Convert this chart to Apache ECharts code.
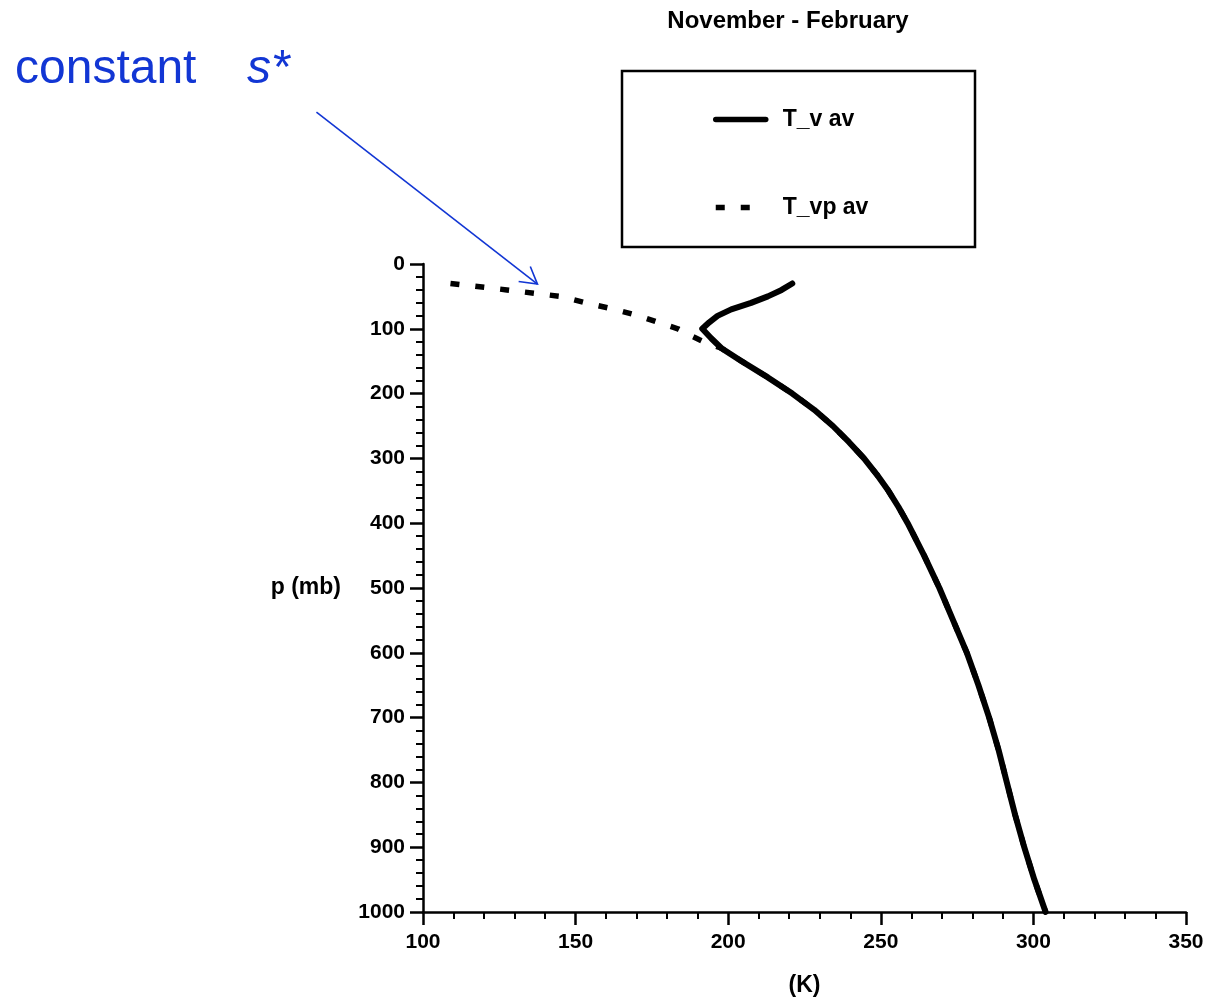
<!DOCTYPE html>
<html>
<head>
<meta charset="utf-8">
<script src="https://cdn.jsdelivr.net/npm/echarts@6/dist/echarts.min.js"></script>
<style>
  html, body { margin: 0; padding: 0; background: #ffffff; }
  #chart { width: 1213px; height: 997px; }
</style>
</head>
<body>
<div id="chart"></div>
<script>
// Winter (Nov–Feb) mean virtual temperature profiles
const chartTitle = 'November - February';
const seriesNames = ['T_v av', 'T_vp av'];

// T_v av : pressure levels (mb) and temperature (K)
const pressureTv = [30, 40, 50, 60, 70, 80, 90, 100, 115, 130, 150, 175, 200, 225, 250, 275, 300, 325, 350, 375, 400, 450, 500, 550, 600, 650, 700, 750, 800, 850, 900, 950, 1000];
const tempTv     = [221, 217.5, 213, 207.5, 201, 196.5, 193.8, 191.5, 194.5, 197.8, 204.4, 213, 221, 228.2, 234.3, 239.6, 244.5, 248.7, 252.5, 255.8, 258.8, 264.2, 269.2, 273.7, 278.2, 282, 285.5, 288.6, 291.3, 294, 297, 300.3, 304];

// T_vp av : follows constant s* aloft, then joins T_v below ~130 mb
const pressureTvp = [30, 40, 50, 60, 70, 80, 90, 100, 110, 120, 130, 150, 175, 200, 225, 250, 275, 300, 325, 350, 375, 400, 450, 500, 550, 600, 650, 700, 750, 800, 850, 900, 950, 1000];
const tempTvp     = [109, 127.5, 145, 153.3, 162.8, 170.7, 177, 183.5, 187.5, 192, 197.8, 204.4, 213, 221, 228.2, 234.3, 239.6, 244.5, 248.7, 252.5, 255.8, 258.8, 264.2, 269.2, 273.7, 278.2, 282, 285.5, 288.6, 291.3, 294, 297, 300.3, 304];

// Axis ranges and labels
const xRange = [100, 350];
const xStep = 50;
const yRange = [0, 1000];
const yStep = 100;
const xAxisName = '(K)';
const yAxisName = 'p (mb)';

// Annotation on the upper T_vp branch
const annotationText = 'constant';
const annotationSymbol = 's*';
const annotationTarget = [137.5, 31];

const toPairs = (ps, ts) => ts.map((t, i) => [t, ps[i]]);

const chart = echarts.init(document.getElementById('chart'), null, { renderer: 'canvas' });

const fontFamily = '"Liberation Sans", Arial, sans-serif';
const axisFont = { fontFamily, fontWeight: 'bold', color: '#000', fontSize: 21 };
const nameFont = { fontFamily, fontWeight: 'bold', color: '#000', fontSize: 23 };

chart.setOption({
  backgroundColor: '#ffffff',
  animation: false,
  color: ['#000', '#000'],
  grid: { left: 423, top: 264, width: 763, height: 648, containLabel: false, outerBoundsMode: 'none' },
  legend: {
    data: seriesNames,
    orient: 'vertical',
    left: 708,
    top: 103,
    itemWidth: 50,
    itemHeight: 22,
    itemGap: 65,
    itemStyle: { opacity: 0 },
    lineStyle: { width: 5.5 },
    textStyle: { fontFamily, fontWeight: 'bold', fontSize: 23, color: '#000', padding: [0, 0, 0, 12] }
  },
  xAxis: {
    type: 'value',
    position: 'bottom',
    min: xRange[0], max: xRange[1], interval: xStep,
    name: xAxisName,
    nameLocation: 'middle',
    nameGap: 62,
    nameTextStyle: nameFont,
    axisLine: { show: true, onZero: false, lineStyle: { color: '#000', width: 2.5 } },
    axisTick: { show: true, length: 13, lineStyle: { color: '#000', width: 2.5 } },
    minorTick: { show: true, splitNumber: 5, length: 7, lineStyle: { color: '#000', width: 2 } },
    axisLabel: Object.assign({ margin: 20, formatter: v => String(v) }, axisFont),
    splitLine: { show: false }
  },
  yAxis: {
    type: 'value',
    position: 'left',
    inverse: true,
    min: yRange[0], max: yRange[1], interval: yStep,
    name: yAxisName,
    nameLocation: 'middle',
    nameRotate: 0,
    nameGap: 82,
    nameTextStyle: nameFont,
    axisLine: { show: true, onZero: false, lineStyle: { color: '#000', width: 2.5 } },
    axisTick: { show: true, length: 13, lineStyle: { color: '#000', width: 2.5 } },
    minorTick: { show: true, splitNumber: 5, length: 7, lineStyle: { color: '#000', width: 2 } },
    axisLabel: Object.assign({ margin: 18, formatter: v => String(v) }, axisFont),
    splitLine: { show: false }
  },
  series: [
    {
      name: seriesNames[1],
      type: 'line',
      data: toPairs(pressureTvp, tempTvp),
      showSymbol: false,
      symbol: 'none',
      z: 2,
      itemStyle: { color: '#000' },
      lineStyle: { color: '#000', width: 5.5, type: [9, 16], cap: 'butt' }
    },
    {
      name: seriesNames[0],
      type: 'line',
      data: toPairs(pressureTv, tempTv),
      showSymbol: false,
      symbol: 'none',
      z: 3,
      itemStyle: { color: '#000' },
      lineStyle: { color: '#000', width: 6, join: 'round', cap: 'round' }
    }
  ]
});

// Title, legend frame and the blue annotation arrow
const tip = chart.convertToPixel({ gridIndex: 0 }, annotationTarget);
const start = [tip[0] - 221, tip[1] - 172];
const ang = Math.atan2(start[1] - tip[1], start[0] - tip[0]);
const headLen = 19, headSpread = Math.PI / 6;
const head1 = [tip[0] + headLen * Math.cos(ang + headSpread), tip[1] + headLen * Math.sin(ang + headSpread)];
const head2 = [tip[0] + headLen * Math.cos(ang - headSpread), tip[1] + headLen * Math.sin(ang - headSpread)];
const blue = '#1236d4';

chart.setOption({
  graphic: [
    {
      type: 'text', z: 10, x: 788, y: 9,
      style: { text: chartTitle, fill: '#000', font: 'bold 24px ' + fontFamily, align: 'center' }
    },
    {
      type: 'rect', z: 10,
      shape: { x: 622, y: 71, width: 353, height: 176 },
      style: { fill: 'none', stroke: '#000', lineWidth: 2.5 }
    },
    {
      type: 'text', z: 10, x: 15, y: 46,
      style: { text: annotationText, fill: blue, font: '48px ' + fontFamily }
    },
    {
      type: 'text', z: 10, x: 247, y: 46,
      style: { text: annotationSymbol, fill: blue, font: 'italic 48px ' + fontFamily }
    },
    {
      type: 'line', z: 10,
      shape: { x1: start[0], y1: start[1], x2: tip[0], y2: tip[1] },
      style: { stroke: blue, lineWidth: 1.6 }
    },
    {
      type: 'polyline', z: 10,
      shape: { points: [head1, tip, head2] },
      style: { stroke: blue, lineWidth: 1.6, fill: null }
    }
  ]
});
</script>
</body>
</html>
